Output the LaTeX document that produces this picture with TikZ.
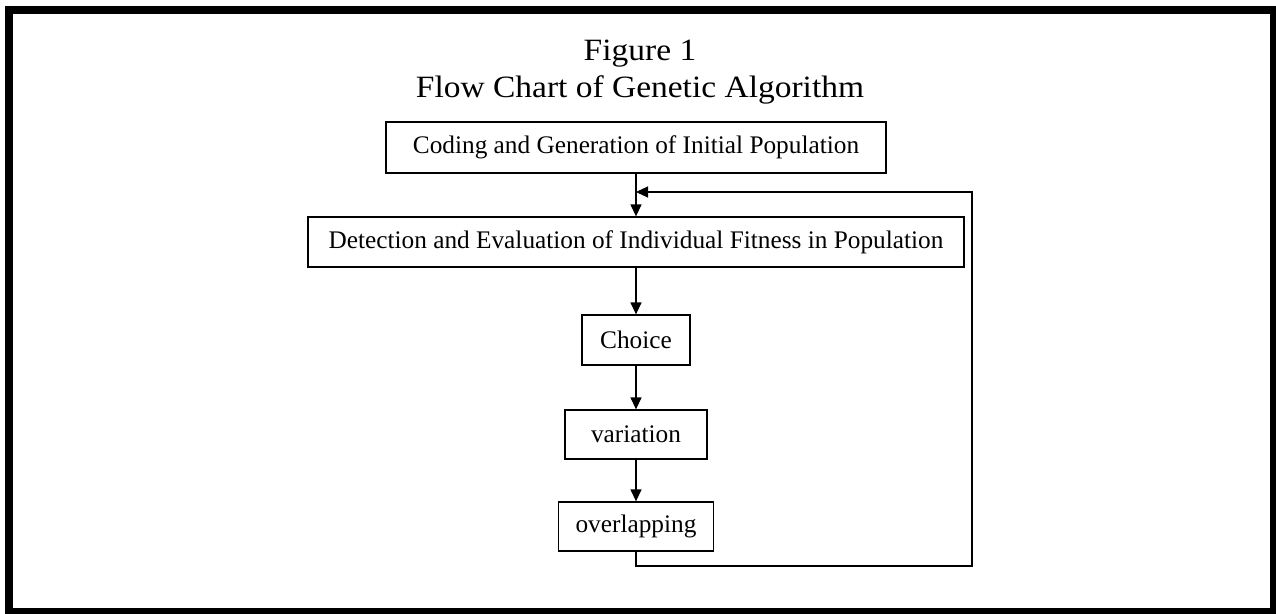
\documentclass[tikz,border=0pt]{standalone}
\usepackage{fontspec}
\setmainfont{Liberation Serif}
\newfontfamily\titlefont[FakeStretch=1.08]{Liberation Serif}
\usetikzlibrary{arrows.meta}
\begin{document}
\begin{tikzpicture}[x=1pt,y=-1pt,
  stepbox/.style={draw, line width=1.3pt, inner sep=0pt, font=\fontsize{25.3}{29}\selectfont},
  arr/.style={line width=1.3pt, -{Triangle[length=12pt,width=11pt]}},
  titletext/.style={font=\titlefont\fontsize{31}{36}\selectfont, align=center}]
\useasboundingbox (0,0) rectangle (1276,613);
% outer frame
\draw[line width=8pt] (9,10) -- (1274,10) -- (1274,612) -- (9,612) -- cycle;
% title
\node[titletext] (title1) at (640,54) {Figure 1};
\node[titletext] (title2) at (640,90) {Flow Chart of Genetic Algorithm};
% boxes
\node[stepbox, minimum width=500pt, minimum height=51pt] (b1) at (636,147.5) {Coding and Generation of Initial Population};
\node[stepbox, minimum width=656pt, minimum height=50pt] (b2) at (636,242) {Detection and Evaluation of Individual Fitness in Population};
\node[stepbox, minimum width=108pt, minimum height=50pt] (b3) at (636,340) {Choice};
\node[stepbox, minimum width=142pt, minimum height=49pt] (b4) at (636,434.5) {variation};
\node[stepbox, minimum width=155pt, minimum height=49pt] (b5) at (636,526.5) {overlapping};
% connectors
\draw[arr] (b1.south) -- (b2.north);
\draw[arr] (b2.south) -- (b3.north);
\draw[arr] (b3.south) -- (b4.north);
\draw[arr] (b4.south) -- (b5.north);
\coordinate (loopbr) at (972,566);
\coordinate (join) at (636,192);
\draw[arr] (b5.south) |- (loopbr) -- (loopbr |- join) -- (join);
\end{tikzpicture}
\end{document}
